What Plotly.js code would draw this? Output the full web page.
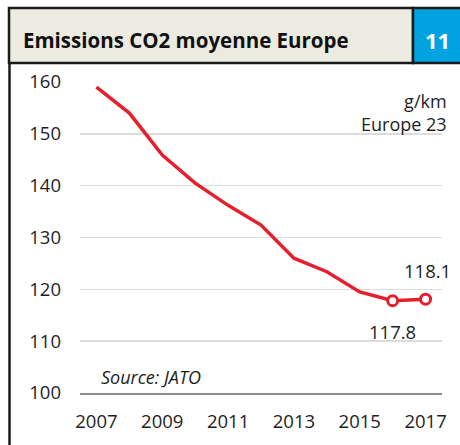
<!DOCTYPE html>
<html>
<head>
<meta charset="utf-8">
<script src="https://cdn.plot.ly/plotly-3.0.1.min.js"></script>
<style>html,body{margin:0;padding:0;background:#fff;}#chart{width:460px;height:445px;}</style>
</head>
<body>
<div id="chart"></div>
<script>
// Data
const years = ['2007','2008','2009','2010','2011','2012','2013','2014','2015','2016','2017'];
const co2 = [159.0, 154.0, 145.9, 140.5, 136.2, 132.4, 126.0, 123.4, 119.5, 117.8, 118.1];
const markedYears = ['2016','2017'];
const markedValues = [117.8, 118.1];
const xTickLabels = ['2007','2009','2011','2013','2015','2017'];
const yTickValues = [100,110,120,130,140,150,160];
const titleText = 'Emissions CO2 moyenne Europe';
const badgeText = '11';
const unitText = 'g/km<br>Europe 23';
const sourceText = 'Source: JATO';

// Layout geometry (pixels)
const W = 460, H = 445;
const M = {l: 80, r: 18, t: 82, b: 52};
const pw = W - M.l - M.r, ph = H - M.t - M.b;
const px = v => (v - M.l) / pw;          // pixel x -> paper x
const py = v => (H - M.b - v) / ph;      // pixel y -> paper y
const catIndex = c => years.indexOf(c);

const FONT = '"Open Sans", "Noto Sans", sans-serif';
const TXT = '#1e1e1e';
const RED = '#e5202e';

const traces = [
  {
    x: years, y: co2, type: 'scatter', mode: 'lines',
    line: {color: RED, width: 3.5, shape: 'linear'},
    hoverinfo: 'skip', showlegend: false
  },
  {
    x: markedYears, y: markedValues, type: 'scatter', mode: 'markers',
    marker: {symbol: 'circle', size: 10, color: '#ffffff', line: {color: RED, width: 3}},
    hoverinfo: 'skip', showlegend: false
  }
];

const layout = {
  width: W, height: H,
  margin: M,
  paper_bgcolor: '#ffffff', plot_bgcolor: '#ffffff',
  font: {family: FONT, size: 18, color: TXT},
  showlegend: false,
  xaxis: {
    type: 'category', range: [-0.5, years.length - 0.5],
    tickmode: 'array', tickvals: xTickLabels, ticktext: xTickLabels,
    showgrid: false, zeroline: false,
    showline: true, linecolor: '#8c8c8c', linewidth: 1.5,
    ticks: '', ticklabelstandoff: 11,
    tickfont: {family: FONT, size: 18.5, color: TXT}
  },
  yaxis: {
    range: [100, 160], tickmode: 'array', tickvals: yTickValues,
    showgrid: true, gridcolor: '#dcdcdc', gridwidth: 1.5,
    zeroline: false, showline: false, ticks: '',
    ticklabelstandoff: 18,
    tickfont: {family: FONT, size: 18.5, color: TXT}
  },
  shapes: [
    // Title box
    {type: 'rect', xref: 'paper', yref: 'paper', x0: px(9), x1: px(413), y0: py(63), y1: py(8),
     fillcolor: '#ecebe1', line: {color: '#1a1a1a', width: 2.5}, layer: 'above'},
    // Badge box
    {type: 'rect', xref: 'paper', yref: 'paper', x0: px(413), x1: px(462), y0: py(63), y1: py(8),
     fillcolor: '#00a3e0', line: {color: '#1a1a1a', width: 2.5}, layer: 'above'},
    // Left panel border
    {type: 'line', xref: 'paper', yref: 'paper', x0: px(9.5), x1: px(9.5), y0: py(63), y1: py(447),
     line: {color: '#1a1a1a', width: 2.5}}
  ],
  annotations: [
    {xref: 'paper', yref: 'paper', x: px(21), y: py(40), xanchor: 'left', yanchor: 'middle',
     text: '<b>' + titleText + '</b>', showarrow: false,
     font: {family: FONT, size: 20.5, color: '#111'}},
    {xref: 'paper', yref: 'paper', x: px(437), y: py(40), xanchor: 'center', yanchor: 'middle',
     text: '<b>' + badgeText + '</b>', showarrow: false,
     font: {family: FONT, size: 22, color: '#ffffff'}},
    {xref: 'paper', yref: 'paper', x: px(449), y: py(87), xanchor: 'right', yanchor: 'top',
     text: unitText, align: 'right', showarrow: false,
     font: {family: FONT, size: 18, color: TXT}},
    {xref: 'paper', yref: 'paper', x: px(99), y: py(377), xanchor: 'left', yanchor: 'middle',
     text: '<i>' + sourceText + '</i>', showarrow: false,
     font: {family: FONT, size: 18, color: TXT}},
    {xref: 'x', yref: 'y', x: catIndex(markedYears[1]), y: markedValues[1], yshift: 29, xshift: 2,
     text: markedValues[1].toFixed(1), showarrow: false,
     font: {family: FONT, size: 18.5, color: TXT}},
    {xref: 'x', yref: 'y', x: catIndex(markedYears[0]), y: markedValues[0], yshift: -31,
     text: markedValues[0].toFixed(1), showarrow: false,
     font: {family: FONT, size: 18.5, color: TXT}}
  ]
};

Plotly.newPlot('chart', traces, layout, {displayModeBar: false, staticPlot: true});
</script>
</body>
</html>
